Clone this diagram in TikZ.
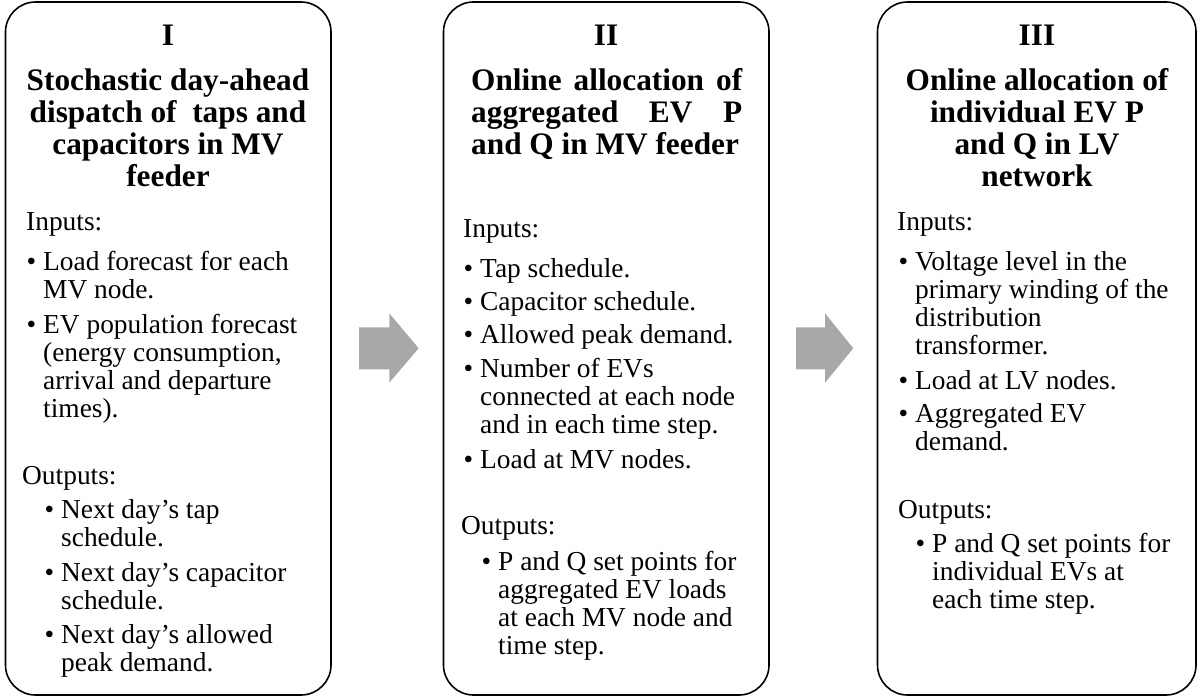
\documentclass[tikz,border=0pt]{standalone}
\usepackage{fontspec}
\setmainfont{Liberation Serif}
\definecolor{arrowgray}{RGB}{168,168,168}
\newcommand{\headfont}{\fontsize{31.3}{32}\selectfont\bfseries}
\newcommand{\bodyfont}{\fontsize{27.4}{28}\selectfont}
% bullet item: first baseline is the node's base, bullet hangs to the left
\newcommand{\bul}[1]{\parbox[t]{300pt}{\raggedright\leavevmode\llap{\textbullet\hspace{7pt}}#1}}
\newcommand{\headlines}[1]{\parbox[t]{320pt}{\centering #1}}
\begin{document}
\begin{tikzpicture}[x=1pt,y=-1pt,
  stage/.style={draw=black, line width=1.6pt, rounded corners=30pt, inner sep=0pt, outer sep=0pt},
  numeral/.style={anchor=base, inner sep=0pt, font=\headfont},
  heading/.style={anchor=base, inner sep=0pt, font=\headfont},
  label/.style={anchor=base west, inner sep=0pt, font=\bodyfont},
  flow/.style={fill=arrowgray, draw=none}]
\useasboundingbox (0,0) rectangle (1198,698);

% ---- stage frames
\node[stage, minimum width=325.5pt, minimum height=693pt] (b1) at (168.25,348.5) {};
\node[stage, minimum width=325.5pt, minimum height=693pt] (b2) at (606.25,348.5) {};
\node[stage, minimum width=318.5pt, minimum height=693pt] (b3) at (1036.75,348.5) {};

% ---- stage I
\node[numeral] (n1) at (168,46) {I};
\node[heading] (h1) at (168,91) {\headlines{Stochastic day-ahead\\dispatch of\ \ taps and\\capacitors in MV\\feeder}};
\node[label] (in1) at (26,230) {Inputs:};
\node[label] (i1a) at (43,270) {\bul{Load forecast for each\\MV node.}};
\node[label] (i1b) at (43,333) {\bul{EV population forecast\\(energy consumption,\\arrival and departure\\times).}};
\node[label] (out1) at (22,484) {Outputs:};
\node[label] (o1a) at (61,518) {\bul{Next day’s tap\\schedule.}};
\node[label] (o1b) at (61,581) {\bul{Next day’s capacitor\\schedule.}};
\node[label] (o1c) at (61,643) {\bul{Next day’s allowed\\peak demand.}};

% ---- stage II
\node[numeral] (n2) at (606,46) {II};
\node[heading, anchor=base west] (h2) at (471,91) {\parbox[t]{271pt}{\makebox[271pt]{Online\hfill allocation\hfill of}\\\makebox[271pt]{aggregated\hfill EV\hfill P}\\and Q in MV feeder}};
\node[label] (in2) at (463,237) {Inputs:};
\node[label] (i2a) at (480,277) {\bul{Tap schedule.}};
\node[label] (i2b) at (480,310) {\bul{Capacitor schedule.}};
\node[label] (i2c) at (480,343) {\bul{Allowed peak demand.}};
\node[label] (i2d) at (480,377) {\bul{Number of EVs\\connected at each node\\and in each time step.}};
\node[label] (i2e) at (480,468) {\bul{Load at MV nodes.}};
\node[label] (out2) at (461,534) {Outputs:};
\node[label] (o2a) at (498,570) {\bul{P and Q set points for\\aggregated EV loads\\at each MV node and\\time step.}};

% ---- stage III
\node[numeral] (n3) at (1037,46) {III};
\node[heading] (h3) at (1037,91) {\headlines{Online allocation of\\individual EV P\\and Q in LV\\network}};
\node[label] (in3) at (897,230) {Inputs:};
\node[label] (i3a) at (915,270) {\bul{Voltage level in the\\primary winding of the\\distribution\\transformer.}};
\node[label] (i3b) at (915,389) {\bul{Load at LV nodes.}};
\node[label] (i3c) at (915,422) {\bul{Aggregated EV\\demand.}};
\node[label] (out3) at (898,518) {Outputs:};
\node[label] (o3a) at (932,552) {\bul{P and Q set points for\\individual EVs at\\each time step.}};

% ---- block arrows between the stages
\draw[flow] (359,327.3) -- (389.3,327.3) -- (389.3,313.3) -- (418.7,348.3)
  -- (389.3,382.7) -- (389.3,369.3) -- (359,369.3) -- cycle;
\draw[flow] (796,327.3) -- (825,327.3) -- (825,313.3) -- (853.3,348.3)
  -- (825,382.7) -- (825,369.3) -- (796,369.3) -- cycle;
\end{tikzpicture}
\end{document}
